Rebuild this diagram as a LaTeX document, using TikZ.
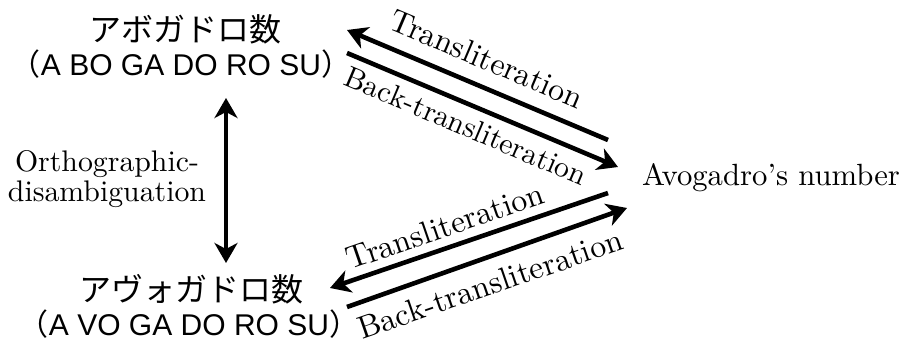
\documentclass[tikz,border=0pt]{standalone}
\usepackage{fontspec}
\newfontfamily\jp{Noto Sans CJK JP}
\newfontfamily\arialf{Liberation Sans}
\usetikzlibrary{arrows.meta}
\tikzset{
  jptext/.style={inner sep=0pt, font=\jp\fontsize{32}{34}\selectfont},
  romtext/.style={inner sep=0pt, font=\arialf\fontsize{30}{32}\selectfont},
  serif/.style={inner sep=0pt, font=\fontsize{10}{10.3}\selectfont, scale=2.98, transform shape},
  lbl/.style={serif, scale=1.07},
  conn/.style={line width=4.6pt, -{Stealth[length=20pt,width=23pt,inset=6pt]}},
  dconn/.style={line width=4.6pt, {Stealth[length=20pt,width=23pt,inset=6pt]}-{Stealth[length=20pt,width=23pt,inset=6pt]}}
}
\begin{document}
\begin{tikzpicture}[x=1pt,y=-1pt]
\useasboundingbox (0,0) rectangle (916,345);
% nodes
\node[jptext] (jpA) at (185,29) {アボガドロ数};
\node[romtext] (rA) at (181,64) {{\jp （}A BO GA DO RO SU{\jp ）}};
\node[jptext] (jpB) at (191,289) {アヴォガドロ数};
\node[romtext] (rB) at (189,324) {{\jp （}A VO GA DO RO SU{\jp ）}};
\node[serif, scale=1.03] (en) at (771,178) {Avogadro's number};
\node[serif, align=center] (ortho) at (107,179) {Orthographic-\\disambiguation};
% arrow end points
\coordinate (vA) at (226,98);
\coordinate (vB) at (226,263);
\coordinate (t1s) at (608,140);
\coordinate (t1e) at (347,30);
\coordinate (b1s) at (347,53);
\coordinate (b1e) at (618,167);
\coordinate (t2s) at (608,193);
\coordinate (t2e) at (330,288);
\coordinate (b2s) at (347,307);
\coordinate (b2e) at (627,208);
% connectors
\draw[dconn] (vB) -- (vA);
\draw[conn] (t1s) -- (t1e);
\draw[conn] (b1s) -- (b1e);
\draw[conn] (t2s) -- (t2e);
\draw[conn] (b2s) -- (b2e);
% labels
\node[lbl, rotate=-23] (lt1) at (487,59) {Transliteration};
\node[serif, rotate=-23] (lb1) at (466,126) {Back-transliteration};
\node[lbl, rotate=19] (lt2) at (445,226) {Transliteration};
\node[lbl, rotate=19] (lb2) at (490,284) {Back-transliteration};
\end{tikzpicture}
\end{document}
